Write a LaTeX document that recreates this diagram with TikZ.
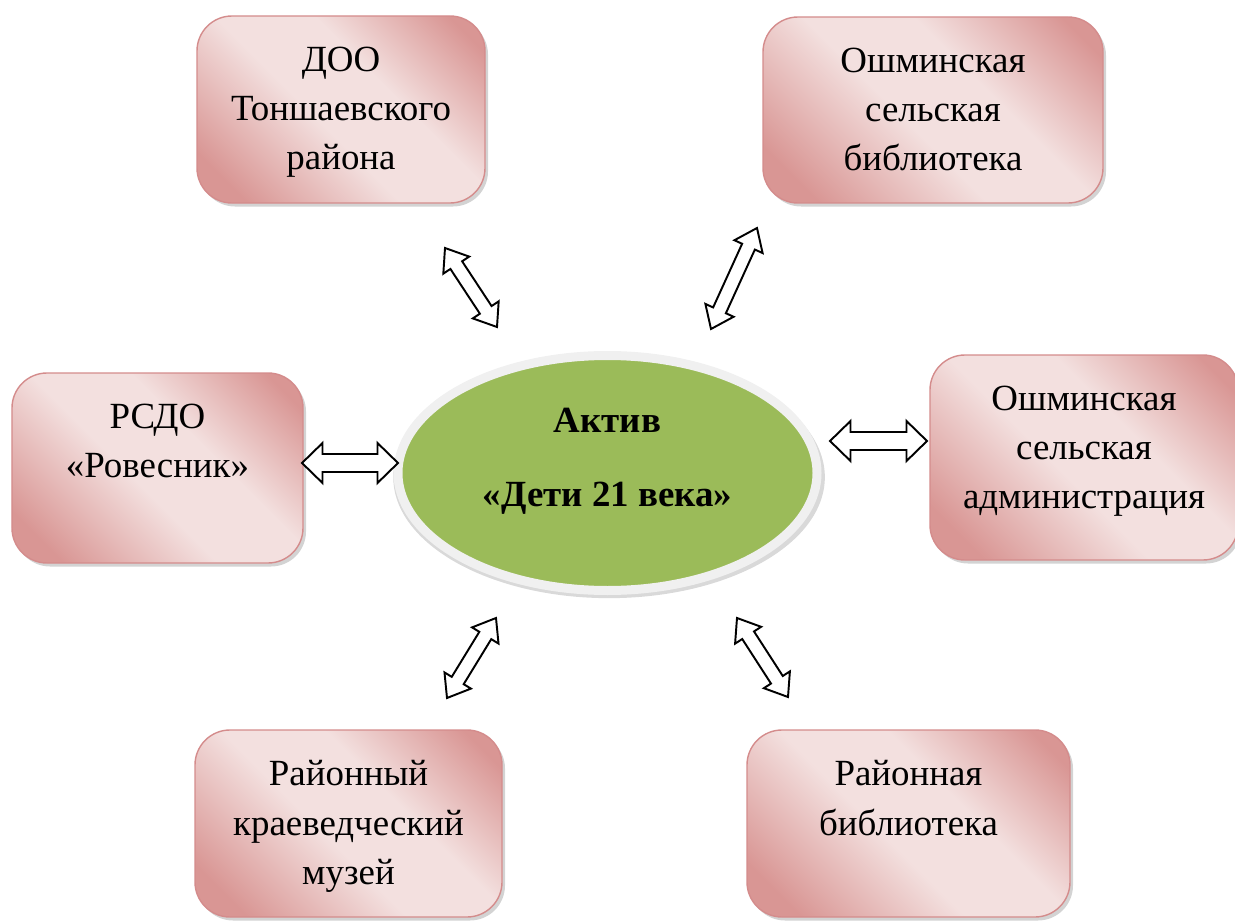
\documentclass[tikz,border=0pt]{standalone}
\usepackage{fontspec}
\setmainfont{Liberation Serif}
\usetikzlibrary{positioning,calc,shadows,shapes.geometric}

\definecolor{pinkdark}{RGB}{217,150,148}
\definecolor{pinklight}{RGB}{243,224,223}
\definecolor{pinkline}{RGB}{212,140,140}
\definecolor{aktivgreen}{RGB}{155,187,89}
\definecolor{halo}{RGB}{240,240,240}

\pgfdeclarehorizontalshading{boxshade}{100bp}{color(0bp)=(pinkdark); color(22bp)=(pinkdark); color(45bp)=(pinklight); color(60bp)=(pinklight); color(80bp)=(pinkdark); color(100bp)=(pinkdark)}

\tikzset{
  orgbox/.style={rectangle, rounded corners=0.7cm, draw=pinkline, line width=0.8pt, shading=boxshade, shading angle=45, drop shadow={shadow xshift=0.06cm, shadow yshift=-0.07cm, opacity=0.35}},
  orgtext/.style={font=\fontsize{21}{28}\selectfont, align=center, inner sep=0pt},
  blockarrow/.style={draw=black, line width=1.1pt, fill=white},
}

% hollow double arrow: from, to, head half width, shaft half width
\newcommand{\dblarrow}[4]{%
  \draw[blockarrow] (#1)
    -- ($($(#1)!0.41cm!(#2)$)!#3!90:(#2)$)
    -- ($($(#1)!0.41cm!(#2)$)!#4!90:(#2)$)
    -- ($($(#2)!0.41cm!(#1)$)!#4!-90:(#1)$)
    -- ($($(#2)!0.41cm!(#1)$)!#3!-90:(#1)$)
    -- (#2)
    -- ($($(#2)!0.41cm!(#1)$)!#3!90:(#1)$)
    -- ($($(#2)!0.41cm!(#1)$)!#4!90:(#1)$)
    -- ($($(#1)!0.41cm!(#2)$)!#4!-90:(#2)$)
    -- ($($(#1)!0.41cm!(#2)$)!#3!-90:(#2)$)
    -- cycle;}

\begin{document}
\begin{tikzpicture}
\useasboundingbox (0,0) rectangle (24.7,-18.42);

% centre
\node[ellipse, minimum width=8.38cm, minimum height=4.7cm, fill=aktivgreen, draw=halo, line width=0.18cm,
  drop shadow={shadow scale=1.03, shadow xshift=0.03cm, shadow yshift=-0.08cm, opacity=0.3}] (aktiv) at (12.15,-9.46) {};
\node[orgtext, font=\bfseries\fontsize{21}{28}\selectfont] (aktivtext) at ([yshift=0.24cm]aktiv.center) {Актив\\[14pt]«Дети 21 века»};

% partners
\node[orgbox, minimum width=5.76cm, minimum height=3.74cm] (doo) at (6.82,-2.19) {};
\node[orgtext, below=0.62cm of doo.north] (dootext) {ДОО\\Тоншаевского\\района};

\node[orgbox, minimum width=6.8cm, minimum height=3.72cm] (oshbib) at (18.66,-2.2) {};
\node[orgtext, below=0.62cm of oshbib.north] (oshbibtext) {Ошминская\\сельская\\библиотека};

\node[orgbox, minimum width=5.82cm, minimum height=3.8cm] (rsdo) at (3.15,-9.36) {};
\node[orgtext, below=0.62cm of rsdo.north] (rsdotext) {РСДО\\«Ровесник»};

\node[orgbox, minimum width=6.16cm, minimum height=4.1cm] (oshadm) at (21.68,-9.15) {};
\node[orgtext, below=0.62cm of oshadm.north] (oshadmtext) {Ошминская\\сельская\\администрация};

\node[orgbox, minimum width=6.14cm, minimum height=3.74cm] (muzey) at (6.97,-16.47) {};
\node[orgtext, below=0.62cm of muzey.north] (muzeytext) {Районный\\краеведческий\\музей};

\node[orgbox, minimum width=6.46cm, minimum height=3.74cm] (rbib) at (18.17,-16.47) {};
\node[orgtext, below=0.62cm of rbib.north] (rbibtext) {Районная\\библиотека};

% arrow ends
\coordinate (dooA) at (8.9,-4.96);
\coordinate (dooB) at (9.94,-6.54);
\coordinate (oshbibA) at (15.14,-4.56);
\coordinate (oshbibB) at (14.22,-6.58);
\coordinate (rsdoA) at (6.04,-9.26);
\coordinate (rsdoB) at (7.96,-9.26);
\coordinate (oshadmA) at (18.54,-8.82);
\coordinate (oshadmB) at (16.6,-8.82);
\coordinate (muzeyA) at (8.94,-13.96);
\coordinate (muzeyB) at (9.92,-12.36);
\coordinate (rbibA) at (15.76,-13.94);
\coordinate (rbibB) at (14.74,-12.36);

\dblarrow{dooA}{dooB}{0.31cm}{0.14cm}
\dblarrow{oshbibA}{oshbibB}{0.31cm}{0.14cm}
\dblarrow{rsdoA}{rsdoB}{0.4cm}{0.18cm}
\dblarrow{oshadmA}{oshadmB}{0.4cm}{0.18cm}
\dblarrow{muzeyA}{muzeyB}{0.31cm}{0.14cm}
\dblarrow{rbibA}{rbibB}{0.31cm}{0.14cm}
\end{tikzpicture}
\end{document}
